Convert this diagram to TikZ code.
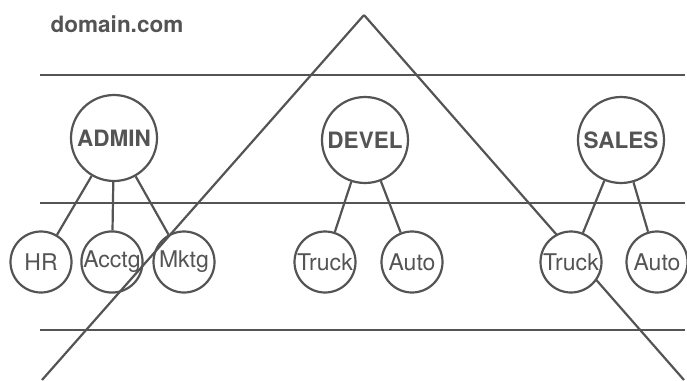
\documentclass[tikz,border=0pt]{standalone}
\usepackage{fontspec}
\setsansfont{TeX Gyre Heros}
\usepackage{tikz}
\definecolor{inkgray}{gray}{0.33}
\tikzstyle{ou}=[circle,draw=inkgray,line width=2.2pt,fill=white,minimum size=86pt,inner sep=0pt,text=inkgray,font=\sffamily\bfseries\fontsize{22.5}{26}\selectfont]
\tikzstyle{subou}=[circle,draw=inkgray,line width=2.2pt,fill=white,minimum size=61pt,inner sep=0pt,text=inkgray,font=\sffamily\fontsize{23}{27}\selectfont]
\tikzstyle{level}=[draw=inkgray,line width=2pt]
\tikzstyle{link}=[draw=inkgray,line width=2.2pt]

\begin{document}
\begin{tikzpicture}[x=1pt,y=-1pt]
		\useasboundingbox (0,0) rectangle (687,380);
		% the three levels of the directory
		\foreach \y/\n in {75/a,203/b,330/c} {
			\coordinate (\n w) at (40,\y);
			\coordinate (\n e) at (685,\y);
			\draw[level] (\n w) -- (\n e);
		}
		% tree of the domain
		\coordinate (apex) at (364,15);
		\coordinate (lfoot) at (42,380);
		\coordinate (rfoot) at (684,380);
		\draw[link] (apex) -- (rfoot);
		% organizational units
		\node[ou] (admin) at (114,138) {ADMIN};
		\node[ou] (devel) at (365,140) {DEVEL};
		\node[ou] (sales) at (621,140) {SALES};
		\node[subou] (hr) at (41,262) {HR};
		\node[subou] (acctg) at (112,262) {Acctg};
		\node[subou] (mktg) at (184,262) {Mktg};
		\node[subou] (dtruck) at (325,262) {Truck};
		\node[subou] (dauto) at (412,262) {Auto};
		\node[subou] (struck) at (571,262) {Truck};
		\node[subou] (sauto) at (657,262) {Auto};
		\draw[link] (admin) -- (hr);
		\draw[link] (admin) -- (acctg);
		\draw[link] (admin) -- (mktg);
		\draw[link] (devel) -- (dtruck);
		\draw[link] (devel) -- (dauto);
		\draw[link] (sales) -- (struck);
		\draw[link] (sales) -- (sauto);
		\draw[link] (apex) -- (lfoot);
		\node[text=inkgray,font=\sffamily\bfseries\fontsize{22.5}{26}\selectfont] (domain) at (117,24) {domain.com};
	\end{tikzpicture}
\end{document}
